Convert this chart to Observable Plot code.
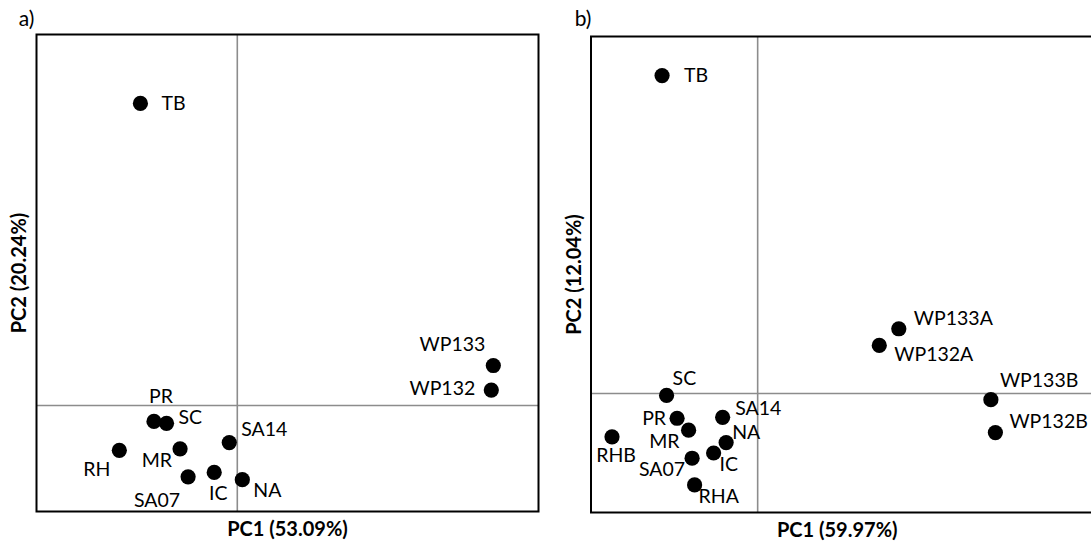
<!DOCTYPE html>
<html>
<head>
<meta charset="utf-8">
<script src="https://cdn.jsdelivr.net/npm/d3@7"></script>
<script src="https://cdn.jsdelivr.net/npm/@observablehq/plot@0.6"></script>
<style>
  html, body { margin: 0; padding: 0; background: #fff; overflow: hidden; width: 1091px; height: 541px; }
  #wrap { position: relative; width: 1091px; height: 541px; overflow: hidden; }
  #pa { position: absolute; left: 0; top: 0; }
  #pb { position: absolute; left: 545px; top: 0; }
  svg { max-width: none !important; }
</style>
</head>
<body>
<div id="wrap"><div id="pa"></div><div id="pb"></div></div>
<script>
// Panel a) data
const namesA = ["TB", "WP133", "WP132", "PR", "SC", "SA14", "RH", "MR", "SA07", "IC", "NA"];
const pc1A = [-1.93, 5.10, 5.06, -1.66, -1.41, -0.16, -2.35, -1.14, -0.98, -0.46, 0.10];
const pc2A = [6.27, 0.83, 0.32, -0.33, -0.37, -0.77, -0.93, -0.90, -1.48, -1.39, -1.54];
const xLabelA = "PC1 (53.09%)";
const yLabelA = "PC2 (20.24%)";

// Panel b) data
const namesB = ["TB", "WP133A", "WP132A", "WP133B", "WP132B", "SC", "PR", "MR", "SA14", "NA", "IC", "SA07", "RHB", "RHA"];
const pc1B = [-1.91, 2.82, 2.43, 4.66, 4.75, -1.82, -1.61, -1.38, -0.70, -0.63, -0.88, -1.31, -2.91, -1.26];
const pc2B = [6.68, 1.36, 1.01, -0.13, -0.82, -0.04, -0.52, -0.77, -0.50, -1.03, -1.25, -1.36, -0.91, -1.92];
const xLabelB = "PC1 (59.97%)";
const yLabelB = "PC2 (12.04%)";

// label placement (anchor, dx, dy) — layout only
const placeA = {
  TB: ["start", 21, 0], WP133: ["end", -8, -21], WP132: ["end", -16, -1],
  PR: ["middle", 7, -25], SC: ["start", 12, -6], SA14: ["start", 12, -13],
  RH: ["end", -9, 19], MR: ["end", -8, 11.5], SA07: ["end", -8, 24],
  IC: ["middle", 4, 21.5], NA: ["start", 11, 11]
};
const placeB = {
  TB: ["start", 22, 0], WP133A: ["start", 15, -10.5], WP132A: ["start", 15, 9],
  WP133B: ["start", 9, -18.5], WP132B: ["start", 14, -11], SC: ["start", 6, -17],
  PR: ["end", -11, 0], MR: ["end", -9, 12], SA14: ["start", 12.5, -9],
  NA: ["start", 6, -10], IC: ["start", 6, 12], SA07: ["end", -7, 12],
  RHB: ["middle", 4, 19], RHA: ["start", 4, 12]
};

const FONT = "Lato, 'Open Sans', sans-serif";

function panel({names, pc1, pc2, place, xLabel, yLabel, tag, xDomain, yDomain, width, margins, xLabelDx, yLabelDx, tagDx, tagDy}) {
  const data = names.map((n, i) => ({name: n, x: pc1[i], y: pc2[i]}));
  const labels = data.map(d => {
    const [anchor, dx, dy] = place[d.name];
    return Plot.text([d], {x: "x", y: "y", text: "name", textAnchor: anchor, dx, dy,
      fontSize: 19.5, fill: "black", lineAnchor: "middle"});
  });
  return Plot.plot({
    width, height: 541,
    marginLeft: margins[0], marginRight: margins[1], marginTop: margins[2], marginBottom: margins[3],
    x: {domain: xDomain, axis: null},
    y: {domain: yDomain, axis: null},
    style: {fontFamily: FONT, background: "white", overflow: "visible"},
    marks: [
      Plot.ruleX([0], {stroke: "#8c8c8c", strokeWidth: 1.6}),
      Plot.ruleY([0], {stroke: "#8c8c8c", strokeWidth: 1.6}),
      Plot.frame({stroke: "black", strokeWidth: 2}),
      Plot.dot(data, {x: "x", y: "y", r: 7.6, fill: "black", stroke: "none"}),
      ...labels,
      Plot.text([xLabel], {frameAnchor: "bottom", dx: xLabelDx, dy: 18, textAnchor: "middle", lineAnchor: "middle",
        fontSize: 20, fontWeight: "bold", fill: "black"}),
      Plot.text([yLabel], {frameAnchor: "left", dx: yLabelDx, rotate: -90, textAnchor: "middle", lineAnchor: "middle",
        fontSize: 20, fontWeight: "bold", fill: "black"}),
      Plot.text([tag], {frameAnchor: "top-left", dx: tagDx, dy: tagDy, textAnchor: "middle", lineAnchor: "middle",
        fontSize: 21, fill: "black"})
    ]
  });
}

document.getElementById("pa").appendChild(panel({
  names: namesA, pc1: pc1A, pc2: pc2A, place: placeA, xLabel: xLabelA, yLabel: yLabelA, tag: "a)",
  xDomain: [-4, 6], yDomain: [-2.2, 7.7], width: 545, margins: [36, 7, 34, 30],
  xLabelDx: 0, yLabelDx: -17, tagDx: -10, tagDy: -15
}));

document.getElementById("pb").appendChild(panel({
  names: namesB, pc1: pc1B, pc2: pc2B, place: placeB, xLabel: xLabelB, yLabel: yLabelB, tag: "b)",
  xDomain: [-3.33, 6.87], yDomain: [-2.5, 7.5], width: 561, margins: [45.5, 5, 36, 29],
  xLabelDx: -9, yLabelDx: -16, tagDx: -8, tagDy: -17
}));
</script>
</body>
</html>
